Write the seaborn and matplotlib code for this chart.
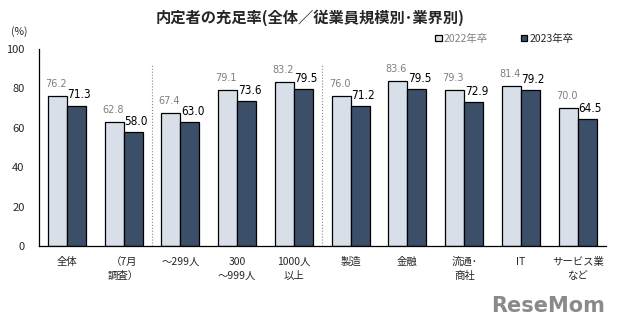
import matplotlib
matplotlib.use("Agg")
import matplotlib.pyplot as plt
import seaborn as sns
import pandas as pd

categories = ["全体", "（7月\n調査）", "～299人", "300\n～999人", "1000人\n以上",
              "製造", "金融", "流通･\n商社", "IT", "サービス業\nなど"]
vals_2022 = [76.2, 62.8, 67.4, 79.1, 83.2, 76.0, 83.6, 79.3, 81.4, 70.0]
vals_2023 = [71.3, 58.0, 63.0, 73.6, 79.5, 71.2, 79.5, 72.9, 79.2, 64.5]
series = ["2022年卒", "2023年卒"]
yticks = [0, 20, 40, 60, 80, 100]
dividers = [1.5, 4.5]

sns.set_theme(style="white")
plt.rcParams['font.family'] = ['Noto Sans CJK JP', 'DejaVu Sans']

df = pd.DataFrame({
    "cat": categories * 2,
    "val": vals_2022 + vals_2023,
    "year": [series[0]] * len(categories) + [series[1]] * len(categories),
})

fig = plt.figure(figsize=(6.21, 3.31), dpi=100)
ax = fig.add_axes([0.062, 0.257, 0.914, 0.595])

sns.barplot(data=df, x="cat", y="val", hue="year", order=categories,
            hue_order=series, palette=["#D9DFE8", "#3B4F69"],
            edgecolor="black", linewidth=0.9, width=0.67, ax=ax,
            saturation=1)

ax.set_xlim(-0.5, len(categories) - 0.5)
ax.set_ylim(0, 100)
ax.set_yticks(yticks)
ax.set_yticklabels([str(t) for t in yticks], fontsize=8)
ax.set_xlabel("")
ax.set_ylabel("")
ax.tick_params(axis="x", length=0, labelsize=7.5, pad=8)
for lab in ax.get_xticklabels():
    lab.set_linespacing(1.5)
ax.set_xticks([i - 0.5 for i in range(len(categories) + 1)], minor=True)
ax.tick_params(axis="x", which="minor", direction="in", length=3, color="black", width=0.8)
ax.tick_params(axis="y", direction="in", length=3, color="black", width=0.8, pad=10)
for s in ["top", "right"]:
    ax.spines[s].set_visible(False)
for s in ["left", "bottom"]:
    ax.spines[s].set_color("black")
    ax.spines[s].set_linewidth(0.9)

for d in dividers:
    ax.axvline(d, ymin=0, ymax=0.92, color="#888888", linestyle=":", linewidth=0.8)

c_light, c_dark = ax.containers[0], ax.containers[1]
for bar, v in zip(c_light, vals_2022):
    ax.annotate(f"{v:.1f}", (bar.get_x() + bar.get_width() / 2, bar.get_height()),
                xytext=(-1, 5), textcoords="offset points", ha="center", va="bottom",
                fontsize=7, color="#7f7f7f", family="DejaVu Sans")
for bar, v in zip(c_dark, vals_2023):
    ax.annotate(f"{v:.1f}", (bar.get_x() + bar.get_width() / 2, bar.get_height()),
                xytext=(2, 3), textcoords="offset points", ha="center", va="bottom",
                fontsize=8.5, color="black", family="DejaVu Sans", fontstretch="condensed")

leg = ax.legend(ncol=2, frameon=False, loc="lower right", bbox_to_anchor=(0.95, 1.005),
                fontsize=7.5, handlelength=0.6, handleheight=0.6, handletextpad=0.2,
                columnspacing=3.2, borderaxespad=0)
leg.get_texts()[0].set_color("#808080")

fig.text(0.5, 0.945, "内定者の充足率(全体／従業員規模別･業界別)", ha="center", va="center",
         fontsize=11, fontweight="bold")
fig.text(0.018, 0.905, "(%)", ha="left", va="center", fontsize=7.5)
fig.text(0.975, 0.075, "ReseMom", ha="right", va="center", fontsize=15,
         fontweight="bold", color="#8a8a8a", family="DejaVu Sans")

fig.savefig("out.png", dpi=100)
